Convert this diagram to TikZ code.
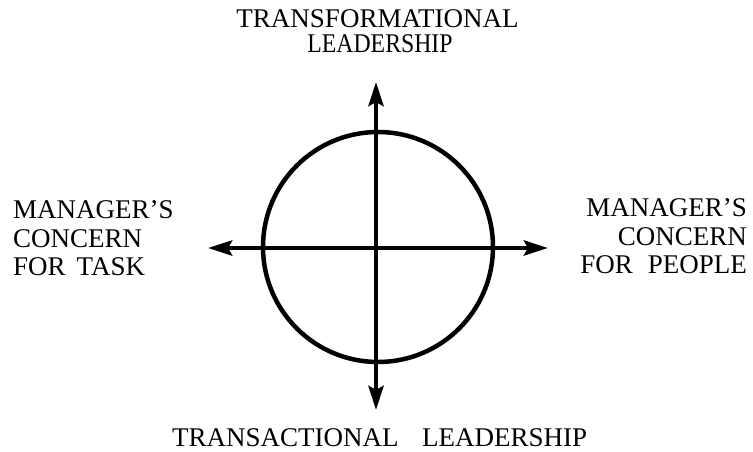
\documentclass[tikz,border=0pt]{standalone}
\usepackage{fontspec}
\setmainfont{Liberation Serif}
\usetikzlibrary{arrows.meta}
\tikzset{
  lbl/.style={inner sep=0pt, font=\fontsize{27}{28}\selectfont},
  axis/.style={line width=4.5pt, {Stealth[length=24pt,width=15pt,inset=4pt]}-{Stealth[length=24pt,width=15pt,inset=4pt]}},
  ring/.style={circle, draw, line width=4.5pt, minimum size=230pt, inner sep=0pt}
}
\begin{document}
\begin{tikzpicture}[x=1pt,y=-1pt]
\useasboundingbox (0,0) rectangle (753,452);
\node[ring] (c) at (378,247) {};
\coordinate (N) at (376,82);
\coordinate (S) at (376,410);
\coordinate (W) at (208,248);
\coordinate (E) at (548,248);
\draw[axis] (S) -- (N);
\draw[axis] (W) -- (E);
% top
\node[lbl, anchor=base] (t1) at (377.5,28) {TRANSFORMATIONAL};
\node[lbl, anchor=base] (t2) at (380,53) {\scalebox{0.88}[1]{LEADERSHIP}};
% left
\node[lbl, anchor=base west] (l1) at (13,218) {MANAGER’S};
\node[lbl, anchor=base west] (l2) at (13,247) {CONCERN};
\node[lbl, anchor=base west] (l3) at (13,275) {FOR\hspace{11pt}TASK};
% right
\node[lbl, anchor=base east] (r1) at (747,216) {MANAGER’S};
\node[lbl, anchor=base east] (r2) at (747,245) {CONCERN};
\node[lbl, anchor=base east] (r3) at (747,273) {FOR\hspace{15pt}PEOPLE};
% bottom
\node[lbl, anchor=base west] (b1) at (172,446) {TRANSACTIONAL};
\node[lbl, anchor=base west] (b2) at (422,446) {LEADERSHIP};
\end{tikzpicture}
\end{document}
